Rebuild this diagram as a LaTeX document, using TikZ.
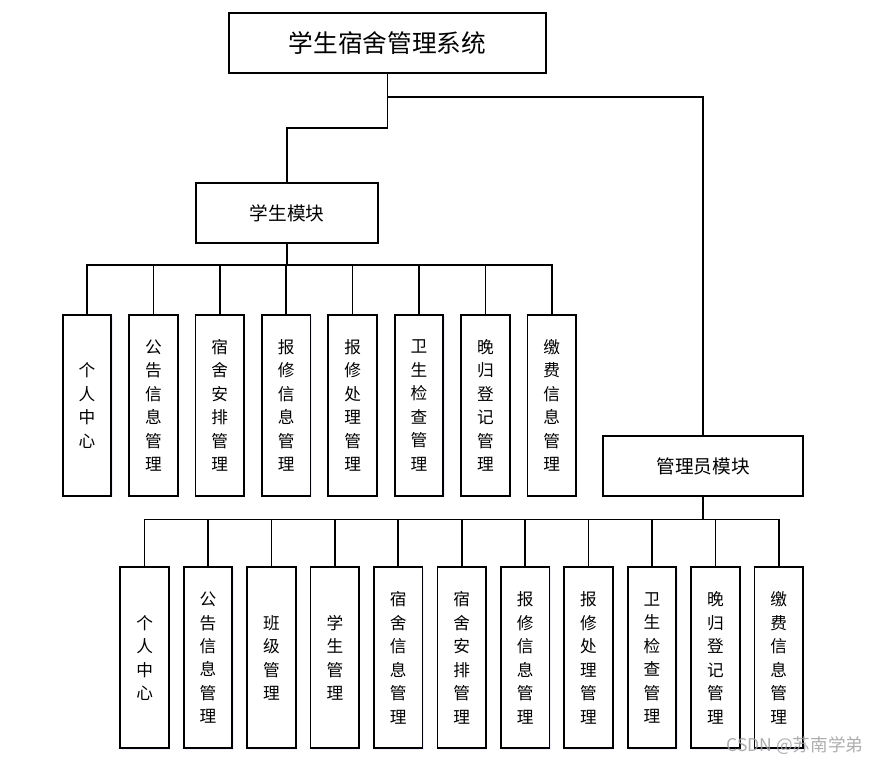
\documentclass[tikz,border=0pt]{standalone}
\usepackage{fontspec}
\newfontfamily\cjk{Noto Sans CJK SC}
\usetikzlibrary{positioning, calc, shadows}
\tikzset{
  box/.style={draw, line width=1.3pt, fill=white, inner sep=0pt, align=center, font=\cjk,
    drop shadow={fill=blue!12, opacity=0.5, shadow xshift=1pt, shadow yshift=-1pt}},
  leaf/.style={box, minimum width=36.4pt, minimum height=135.8pt, font=\cjk\fontsize{12.5pt}{17.6pt}\selectfont},
  module/.style={box, minimum height=45pt, font=\cjk\fontsize{14pt}{16pt}\selectfont},
  wire/.style={line width=1.25pt},
}

\begin{document}
\begin{tikzpicture}[x=0.75pt,y=-0.75pt]
            \useasboundingbox (0,0) rectangle (882,764);
            % top
            \node[box, minimum width=237.8pt, minimum height=45pt, font=\cjk\fontsize{18.5pt}{22pt}\selectfont] (root) at (387.5,43) {学生宿舍管理系统};
            \node[module, minimum width=136.5pt] (stu) at (287,213) {学生模块};
            \node[module, minimum width=150pt] (adm) at (703,466) {管理员模块};
            \draw[wire] (root.south) -- ++(0,54) -| (stu.north);
            \path (root.south) ++(0,23) coordinate (rk);
            \draw[wire] (rk) -| (adm.north);
            % student leaves
            \foreach \lab [count=\i] in {{个\\人\\中\\心}, {公\\告\\信\\息\\管\\理}, {宿\\舍\\安\\排\\管\\理}, {报\\修\\信\\息\\管\\理}, {报\\修\\处\\理\\管\\理}, {卫\\生\\检\\查\\管\\理}, {晚\\归\\登\\记\\管\\理}, {缴\\费\\信\\息\\管\\理}}
                \node[leaf] (sl\i) at ({87+66.4*(\i-1)},405.5) {\lab};
            \path (stu.south) ++(0,21) coordinate (sbus);
            \draw[line width=1.9pt] (stu.south) -- (sbus);
            \foreach \i in {1,...,8}
                \draw[wire] (sbus) -| (sl\i.north);
            % admin leaves
            \foreach \lab [count=\i] in {{个\\人\\中\\心}, {公\\告\\信\\息\\管\\理}, {班\\级\\管\\理}, {学\\生\\管\\理}, {宿\\舍\\信\\息\\管\\理}, {宿\\舍\\安\\排\\管\\理}, {报\\修\\信\\息\\管\\理}, {报\\修\\处\\理\\管\\理}, {卫\\生\\检\\查\\管\\理}, {晚\\归\\登\\记\\管\\理}, {缴\\费\\信\\息\\管\\理}}
                \node[leaf] (al\i) at ({144.6+63.42*(\i-1)},657.8) {\lab};
            \path (adm.south) ++(0,22.5) coordinate (abus);
            \draw[line width=1.9pt] (adm.south) -- (abus);
            \foreach \i in {1,...,11}
                \draw[wire] (abus) -| (al\i.north);
            \node[anchor=east, text=gray!75, opacity=0.85, font=\cjk\fontsize{13.2pt}{15pt}\selectfont] (mark) at (868,746) {CSDN @苏南学弟};
        \end{tikzpicture}
\end{document}
